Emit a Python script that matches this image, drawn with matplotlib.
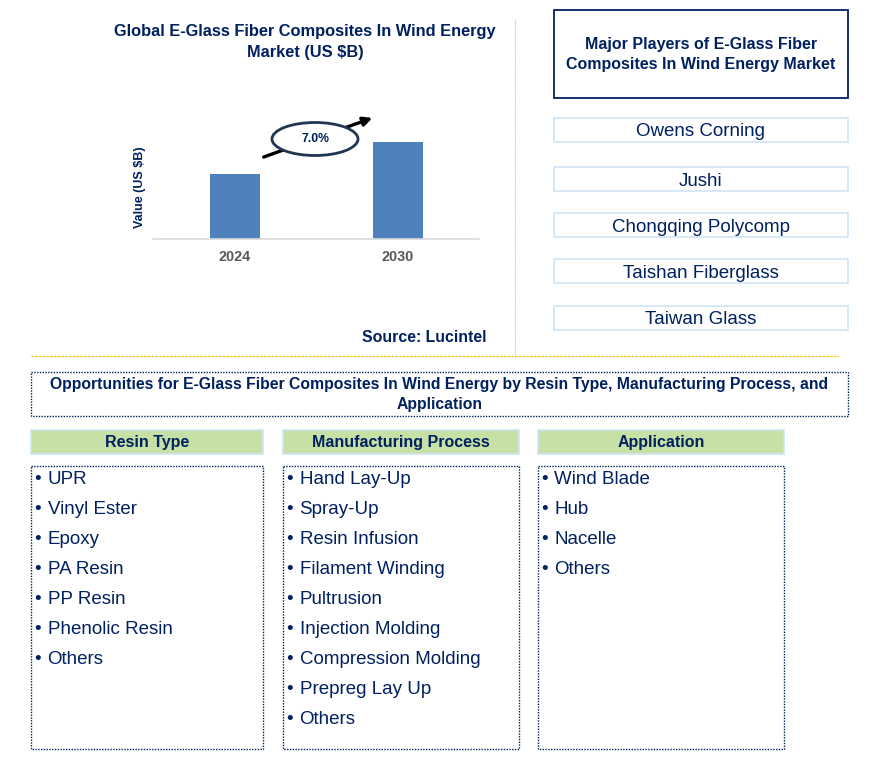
import matplotlib.pyplot as plt
from matplotlib.patches import Rectangle, Ellipse, FancyArrowPatch

# chart data
years = ["2024", "2030"]
values = [1.0, 1.5]
cagr_label = "7.0%"

players = ["Owens Corning", "Jushi", "Chongqing Polycomp",
           "Taishan Fiberglass", "Taiwan Glass"]

resin_types = ["UPR", "Vinyl Ester", "Epoxy", "PA Resin", "PP Resin",
               "Phenolic Resin", "Others"]
processes = ["Hand Lay-Up", "Spray-Up", "Resin Infusion", "Filament Winding",
             "Pultrusion", "Injection Molding", "Compression Molding",
             "Prepreg Lay Up", "Others"]
applications = ["Wind Blade", "Hub", "Nacelle", "Others"]

NAVY = "#002060"
BAR = "#4F81BD"
LIGHTBLUE = "#CFE4F5"
GREEN = "#C6E0A5"

plt.rcParams["font.family"] = ["Liberation Sans", "DejaVu Sans"]

W, H = 891, 768
fig = plt.figure(figsize=(W / 100, H / 100), dpi=100)

# --- bar chart ---
ax = fig.add_axes([153 / W, (H - 239) / H, 326 / W, 139 / H])
ax.set_facecolor("none")
x = range(len(years))
ax.bar(x, values, width=0.31, color=BAR)
ax.set_xlim(-0.505, 1.50)
ax.set_ylim(0, 2.155)
ax.set_xticks(list(x))
ax.set_xticklabels(years, fontsize=10.4, fontweight="bold", color="#595959")
ax.tick_params(axis="x", length=0, pad=8)
ax.set_yticks([])
for s in ["top", "right", "left"]:
    ax.spines[s].set_visible(False)
ax.spines["bottom"].set_color("#D9D9D9")
ax.spines["bottom"].set_linewidth(1.2)
ax.set_ylabel("Value (US $B)", fontsize=9, fontweight="bold", color=NAVY)
ax.yaxis.set_label_coords(-0.021, 0.37)

# overlay in pixel coordinates for boxes and text
ov = fig.add_axes([0, 0, 1, 1])
ov.set_xlim(0, W)
ov.set_ylim(H, 0)
ov.axis("off")

ov.text(305, 42, "Global E-Glass Fiber Composites In Wind Energy\nMarket (US $B)",
        ha="center", va="center", fontsize=11.8, fontweight="bold",
        color=NAVY, linespacing=1.55)

arr = FancyArrowPatch((261, 158), (375, 117), arrowstyle="-|>",
                      mutation_scale=13, lw=2.4, color="black", zorder=3)
ov.add_patch(arr)
ov.add_patch(Ellipse((315, 139), 86, 33, facecolor="white",
                     edgecolor="#1F3550", lw=2, zorder=4))
ov.text(316, 139, cagr_label, ha="center", va="center", fontsize=8.8,
        fontweight="bold", color=NAVY, zorder=5)

ov.text(424, 337, "Source: Lucintel", ha="center", va="center",
        fontsize=11.4, fontweight="bold", color=NAVY)

# separators
ov.plot([515, 515], [20, 358], color="#BFBFBF", lw=0.8, ls=(0, (1, 1)))
ov.plot([31, 838], [355.5, 355.5], color="#FFC000", lw=0.9, ls=(0, (2, 1)))

# --- major players ---
ov.add_patch(Rectangle((554, 10), 294, 88, fill=False, edgecolor=NAVY, lw=1.3))
ov.text(701, 54.5, "Major Players of E-Glass Fiber\nComposites In Wind Energy Market",
        ha="center", va="center", fontsize=11.5, fontweight="bold",
        color=NAVY, linespacing=1.5)
player_tops = [118, 167, 213, 259, 306]
for name, top in zip(players, player_tops):
    ov.add_patch(Rectangle((554, top), 294, 23.5, fill=False,
                           edgecolor=LIGHTBLUE, lw=1.2))
    ov.text(701, top + 14, name, ha="center", va="center",
            fontsize=13.5, color=NAVY)

# --- opportunities ---
ov.add_patch(Rectangle((31, 372), 817, 44, fill=False, edgecolor=NAVY,
                       lw=1, ls=(0, (1, 1))))
ov.text(439.5, 394.5, "Opportunities for E-Glass Fiber Composites In Wind Energy by Resin Type, "
        "Manufacturing Process, and\nApplication", ha="center", va="center",
        fontsize=11.3, fontweight="bold", color=NAVY, linespacing=1.45)

columns = [("Resin Type", resin_types, 31, 232),
           ("Manufacturing Process", processes, 283, 236),
           ("Application", applications, 538, 246)]
for title, items, left, width in columns:
    ov.add_patch(Rectangle((left, 430), width, 23.5, facecolor=GREEN,
                           edgecolor=LIGHTBLUE, lw=1.2))
    ov.text(left + width / 2, 442.5, title, ha="center", va="center",
            fontsize=11.5, fontweight="bold", color=NAVY)
    ov.add_patch(Rectangle((left, 465.5), width, 283, fill=False,
                           edgecolor=NAVY, lw=1, ls=(0, (1, 1))))
    for i, item in enumerate(items):
        y = 480 + 30 * i
        ov.text(left + 3.5, y, "\u2022", ha="left", va="center",
                fontsize=13.5, color=NAVY)
        ov.text(left + 16.5, y, item, ha="left", va="center",
                fontsize=13.5, color=NAVY)

fig.savefig("out.png", dpi=100)
